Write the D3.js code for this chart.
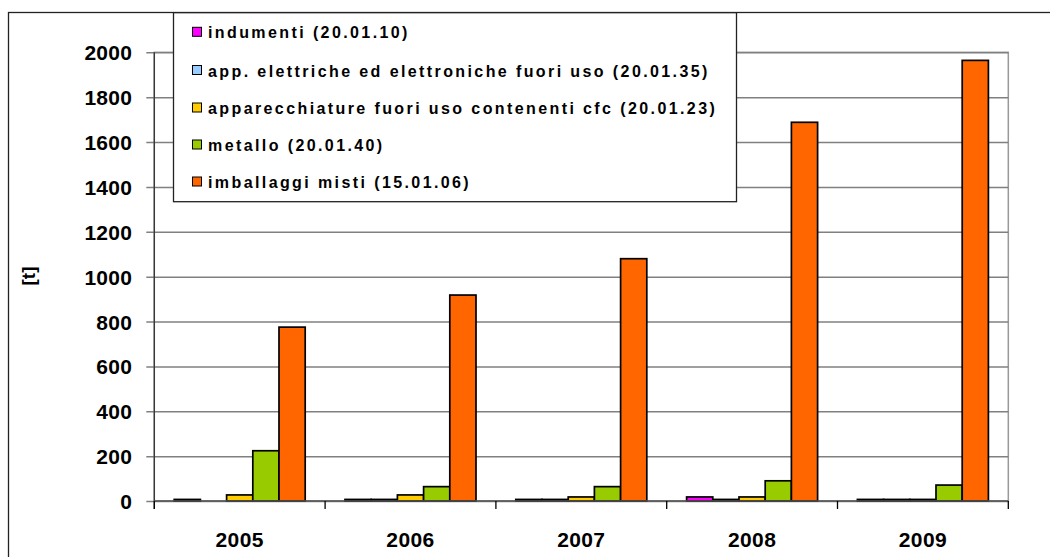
<!DOCTYPE html>
<html><head><meta charset="utf-8">
<script src="https://cdn.jsdelivr.net/npm/d3@7"></script>
<style>
html,body{margin:0;padding:0;background:#fff;}
svg{display:block;font-family:"Liberation Sans",Arial,sans-serif;font-weight:bold;}
</style></head>
<body>
<svg id="c" width="1050" height="557"></svg>
<script>
const years = ["2005","2006","2007","2008","2009"];
const seriesNames = [
  "indumenti (20.01.10)",
  "app. elettriche ed elettroniche fuori uso (20.01.35)",
  "apparecchiature fuori uso contenenti cfc (20.01.23)",
  "metallo (20.01.40)",
  "imballaggi misti (15.01.06)"
];
const seriesColors = ["#FF00FF","#99CCFF","#FFCC00","#99CC00","#FF6600"];
const indumenti   = [7, 7, 7, 18, 7];
const appElettr   = [0, 7, 7, 7, 7];
const cfc         = [27, 27, 18, 18, 7];
const metallo     = [224, 64, 64, 90, 71];
const imballaggi  = [775, 918, 1080, 1688, 1964];
const seriesValues = [indumenti, appElettr, cfc, metallo, imballaggi];
const yTicks = [0,200,400,600,800,1000,1200,1400,1600,1800,2000];
const yTitle = "[t]";

const svg = d3.select("#c");

// outer chart border
svg.append("rect").attr("x",8.5).attr("y",12.5).attr("width",1100).attr("height",600)
  .attr("fill","#fff").attr("stroke","#222").attr("stroke-width",1.3);

const pL = 154.3, pR = 1008.3, pT = 52.3, pB = 501;
const x = d3.scaleBand().domain(years).range([pL,pR]).paddingInner(0.233).paddingOuter(0.1165);
const xs = d3.scaleBand().domain(d3.range(seriesNames.length)).range([0,x.bandwidth()]).padding(0);
const y = d3.scaleLinear().domain([0,2000]).range([pB,pT]);

// plot border (top/right gray)
svg.append("rect").attr("x",pL).attr("y",pT).attr("width",pR-pL).attr("height",pB-pT)
  .attr("fill","none").attr("stroke","#999").attr("stroke-width",1.5);

// gridlines
const yAxis = d3.axisLeft(y).tickValues(yTicks).tickSize(-(pR-pL)).tickPadding(22).tickFormat(d3.format("d"));
const gy = svg.append("g").attr("transform",`translate(${pL},0)`).call(yAxis);
gy.select(".domain").remove();
gy.selectAll(".tick line").attr("stroke","#808080").attr("stroke-width",1.5).attr("x1",-8);
gy.selectAll(".tick text").attr("font-size",21).attr("font-weight","bold").attr("dy","0.36em")
  .attr("fill","#000").attr("font-family","'Liberation Sans',Arial,sans-serif").style("letter-spacing","0.3px");

// bars
const groups = svg.append("g").selectAll("g").data(years).join("g")
  .attr("transform",d=>`translate(${x(d)},0)`);
groups.selectAll("rect").data((d,i)=>seriesValues.map((s,k)=>({k, v:s[i]})).filter(e=>e.v>0)).join("rect")
  .attr("x",e=>xs(e.k)).attr("width",xs.bandwidth())
  .attr("y",e=>y(e.v)).attr("height",e=>y(0)-y(e.v))
  .attr("fill",e=>seriesColors[e.k]).attr("stroke","#000").attr("stroke-width",1.7);

// y axis line
svg.append("line").attr("x1",pL).attr("x2",pL).attr("y1",pT).attr("y2",pB+8)
  .attr("stroke","#333").attr("stroke-width",1.3);
// x axis
svg.append("line").attr("x1",pL).attr("x2",pR).attr("y1",pB).attr("y2",pB)
  .attr("stroke","#555").attr("stroke-width",1.5);
const bounds = years.map(d=>x(d)-x.step()*x.paddingInner()/2).concat([pR]);
bounds[0]=pL;
svg.append("g").selectAll("line").data(bounds).join("line")
  .attr("x1",d=>d).attr("x2",d=>d).attr("y1",pB).attr("y2",pB+8)
  .attr("stroke","#000").attr("stroke-width",1.3);
svg.append("g").selectAll("text").data(years).join("text")
  .attr("x",d=>x(d)+x.bandwidth()/2).attr("y",547)
  .attr("text-anchor","middle").attr("font-size",21).style("letter-spacing","0.4px").text(d=>d);

// y title
svg.append("text").attr("transform","translate(35,276) rotate(-90)")
  .attr("text-anchor","middle").attr("font-size",19).text(yTitle);

// legend
const lg = svg.append("g");
lg.append("rect").attr("x",173.5).attr("y",12.7).attr("width",563).attr("height",189)
  .attr("fill","#fff").attr("stroke","#222").attr("stroke-width",1.3);
const rowsY = [32.3,70.5,108,145,182];
const items = lg.selectAll("g.it").data(seriesNames).join("g").attr("class","it")
  .attr("transform",(d,i)=>`translate(192,${rowsY[i]})`);
items.append("rect").attr("x",0.5).attr("y",-5).attr("width",9).attr("height",9)
  .attr("fill",(d,i)=>seriesColors[i]).attr("stroke","#000").attr("stroke-width",1);
items.append("text").attr("x",16).attr("y",6).attr("font-size",16)
  .style("letter-spacing","2.4px").text(d=>d);
</script>
</body></html>
